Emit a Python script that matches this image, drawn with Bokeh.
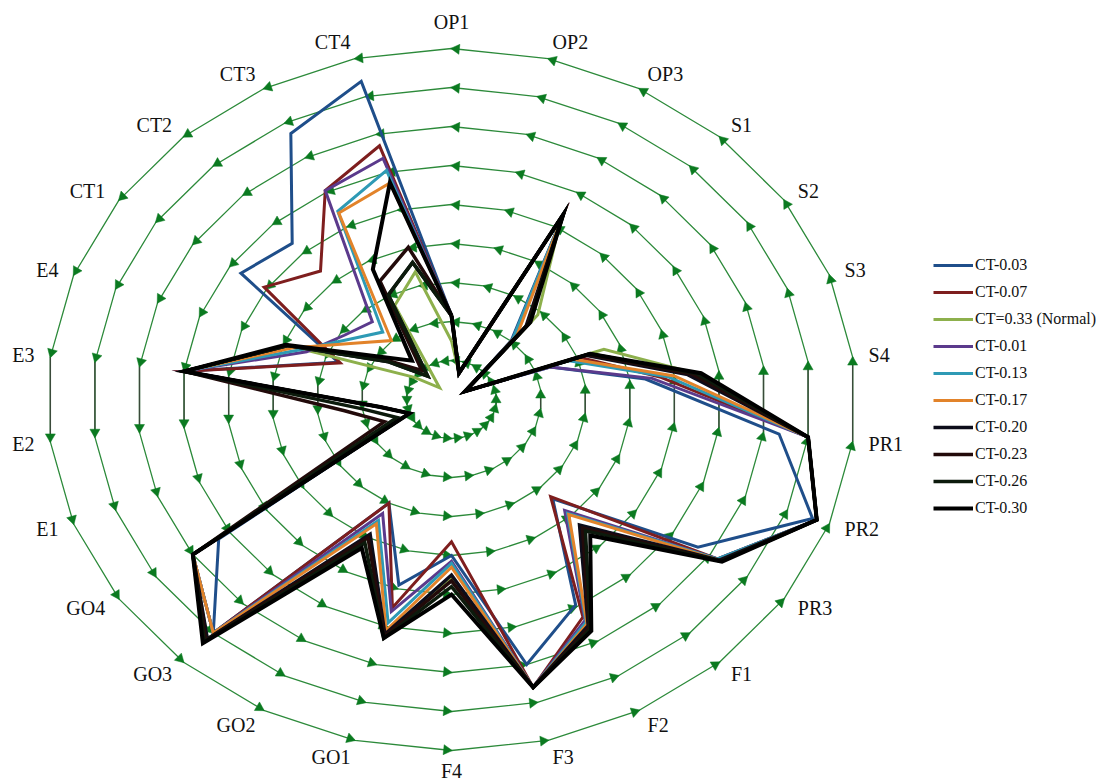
import math
from bokeh.plotting import figure
from bokeh.models import Legend, LegendItem, Range1d
from bokeh.embed import file_html
from bokeh.resources import INLINE
from bokeh.core.properties import value

categories = ["OP1", "OP2", "OP3", "S1", "S2", "S3", "S4", "PR1", "PR2", "PR3",
              "F1", "F2", "F3", "F4", "GO1", "GO2", "GO3", "GO4", "E1", "E2",
              "E3", "E4", "CT1", "CT2", "CT3", "CT4"]

#            OP1  OP2  OP3  S1   S2   S3   S4   PR1  PR2  PR3  F1   F2   F3   F4   GO1  GO2  GO3  GO4  E1   E2   E3   E4   CT1  CT2  CT3  CT4
ct_003 = [2.15, 0.7, 5.35, 2.0, 0.37, 2.35, 4.35, 7.35, 8.6, 6.67, 3.4, 5.95, 7.0, 4.0, 4.9, 3.0, 8.0, 6.3, 1.0, 1.6, 6.0, 2.7, 5.7, 5.35, 7.7, 8.4]
ct_007 = [2.15, 0.7, 5.35, 2.1, 0.37, 3.05, 4.7, 8.0, 8.7, 7.2, 3.33, 6.3, 7.6, 3.65, 5.5, 3.0, 8.0, 7.0, 1.0, 1.6, 6.0, 2.65, 5.07, 4.4, 6.05, 6.7]
ct_033 = [1.5, 0.7, 5.25, 2.9, 0.37, 3.63, 5.5, 8.0, 8.7, 7.3, 4.4, 6.6, 7.6, 4.6, 6.2, 4.0, 8.2, 7.0, 1.0, 1.6, 6.0, 3.9, 1.0, 0.4, 2.72, 3.37]
ct_001 = [2.15, 0.7, 5.35, 2.1, 0.37, 2.35, 4.5, 8.0, 8.7, 7.2, 3.8, 6.4, 7.6, 4.15, 5.6, 3.3, 8.0, 7.0, 1.0, 1.6, 6.0, 3.45, 2.9, 2.66, 6.05, 6.37]
ct_013 = [2.15, 0.7, 5.35, 2.05, 0.37, 2.8, 4.85, 8.0, 8.7, 7.2, 3.9, 6.45, 7.6, 4.2, 5.9, 3.5, 8.0, 7.0, 1.0, 1.6, 6.0, 3.6, 2.73, 2.31, 5.45, 6.05]
ct_017 = [2.15, 0.7, 5.35, 2.2, 0.37, 2.9, 5.0, 8.0, 8.7, 7.25, 3.94, 6.5, 7.6, 4.3, 6.1, 3.6, 8.0, 7.0, 1.0, 1.6, 6.0, 3.75, 2.55, 2.02, 5.4, 5.72]
ct_020 = [2.15, 0.7, 5.35, 2.5, 0.37, 3.2, 5.3, 8.0, 8.7, 7.25, 4.3, 6.55, 7.6, 4.5, 6.2, 3.9, 8.2, 7.0, 1.0, 1.6, 6.0, 3.9, 1.7, 0.8, 3.03, 3.62]
ct_023 = [2.15, 0.7, 5.35, 2.55, 0.37, 3.25, 5.4, 8.0, 8.7, 7.3, 4.4, 6.6, 7.6, 4.65, 6.25, 4.0, 8.25, 7.0, 1.6, 2.4, 6.0, 3.9, 1.8, 1.0, 3.43, 4.02]
ct_026 = [2.15, 0.7, 5.35, 2.6, 0.37, 3.3, 5.5, 8.0, 8.7, 7.3, 4.5, 6.65, 7.6, 4.8, 6.3, 4.15, 8.3, 7.0, 1.3, 2.0, 6.0, 3.9, 1.7, 0.8, 3.03, 3.62]
ct_030 = [2.15, 0.7, 5.35, 2.65, 0.37, 3.3, 5.6, 8.0, 8.7, 7.32, 4.66, 6.7, 7.6, 5.0, 6.3, 4.3, 8.35, 7.0, 1.0, 1.6, 6.0, 3.95, 1.93, 1.33, 3.77, 5.73]

series_names = ["CT-0.03", "CT-0.07", "CT=0.33 (Normal)", "CT-0.01", "CT-0.13",
                "CT-0.17", "CT-0.20", "CT-0.23", "CT-0.26", "CT-0.30"]
series_values = [ct_003, ct_007, ct_033, ct_001, ct_013, ct_017, ct_020, ct_023, ct_026, ct_030]
series_colors = ["#1F4E8A", "#7E1E1E", "#8DB04C", "#5B3A8C", "#2E9AB5",
                 "#E2832A", "#0C0C1A", "#220A0A", "#0C1A0C", "#000000"]
series_widths = [3, 3, 3, 3, 3, 3, 3.5, 3.5, 3.5, 4]

ring_levels = [1, 2, 3, 4, 5, 6, 7, 8, 9]

# ---- layout (pixels) ----
W, H = 1113, 783
CX, CY = 451, 399          # chart centre inside the frame
SX, SY = 44.9, 39.0        # pixels per ring unit, horizontally / vertically

p = figure(width=W, height=H, output_backend="svg", toolbar_location=None,
           x_range=Range1d(-CX / SX, (W - CX) / SX),
           y_range=Range1d(-(H - CY) / SY, CY / SY),
           x_axis_type=None, y_axis_type=None, min_border=0)
p.grid.visible = False
p.outline_line_color = None
p.background_fill_color = "white"

n = len(categories)
ang = [2 * math.pi * i / n for i in range(n)]
ux = [math.sin(a) for a in ang]
uy = [math.cos(a) for a in ang]

GRID = "#2C8A3A"
ARROW = "#0B7A20"

# rings
ring_xs, ring_ys = [], []
for r in ring_levels:
    ring_xs.append([r * ux[i] for i in range(n)] + [r * ux[0]])
    ring_ys.append([r * uy[i] for i in range(n)] + [r * uy[0]])
p.multi_line(ring_xs, ring_ys, line_color=GRID, line_width=1.3)

# vertical edges (E3-E2, S4-PR1) appear darker
iE3, iE2 = categories.index("E3"), categories.index("E2")
iS4, iPR1 = categories.index("S4"), categories.index("PR1")
vx0, vy0, vx1, vy1 = [], [], [], []
for r in ring_levels:
    for a, b in ((iE3, iE2), (iS4, iPR1)):
        vx0.append(r * ux[a]); vy0.append(r * uy[a])
        vx1.append(r * ux[b]); vy1.append(r * uy[b])
p.segment(vx0, vy0, vx1, vy1, line_color="#3A4A3A", line_width=1.4)

# arrow heads at every vertex (direction of travel: vertex i+1 -> vertex i)
ax_, ay_, aa_ = [], [], []
for r in ring_levels:
    for i in range(n):
        j = (i + 1) % n
        dxp = (ux[i] - ux[j]) * r * SX
        dyp = (uy[i] - uy[j]) * r * SY
        phi = math.atan2(dyp, dxp)
        ax_.append(r * ux[i] - 5 * math.cos(phi) / SX)
        ay_.append(r * uy[i] - 5 * math.sin(phi) / SY)
        aa_.append(phi - math.pi / 2)
p.scatter(ax_, ay_, marker="triangle", size=10, angle=aa_,
          fill_color=ARROW, line_color=ARROW, line_width=0.5)

# category labels
groups = {"left": ([], [], []), "right": ([], [], []), "center": ([], [], [])}
R = ring_levels[-1]
for i, c in enumerate(categories):
    px, py = ux[i] * SX, uy[i] * SY
    L = math.hypot(px, py)
    dx, dy = px / L, py / L
    if abs(ux[i]) < 0.01:
        gx = R * ux[i]
        gy = R * uy[i] + (27 if uy[i] > 0 else -20) / SY
        groups["center"][0].append(gx); groups["center"][1].append(gy); groups["center"][2].append(c)
    else:
        gx = R * ux[i] + 16 * dx / SX
        gy = R * uy[i] + 17 * dy / SY
        key = "left" if ux[i] > 0 else "right"
        groups[key][0].append(gx); groups[key][1].append(gy); groups[key][2].append(c)
for align, (gx, gy, gt) in groups.items():
    p.text(gx, gy, text=gt, text_align=align, text_baseline="middle",
           text_font=value("Liberation Serif"), text_font_size="20px", text_color="#111111")

# data series
items = []
for name, vals, col, lw in zip(series_names, series_values, series_colors, series_widths):
    xs = [vals[i] * ux[i] for i in range(n)] + [vals[0] * ux[0]]
    ys = [vals[i] * uy[i] for i in range(n)] + [vals[0] * uy[0]]
    rr = p.line(xs, ys, line_color=col, line_width=lw, line_join="miter")
    items.append(LegendItem(label=name, renderers=[rr]))

legend = Legend(items=items, location=(933, 265), orientation="vertical",
                glyph_width=40, glyph_height=20, label_height=20, spacing=7,
                padding=0, margin=0, label_standoff=2,
                label_text_font="Liberation Serif", label_text_font_size="16px",
                label_text_color="#111111",
                border_line_color=None, background_fill_alpha=0)
p.add_layout(legend)

open("out.html", "w").write(file_html(p, INLINE))
